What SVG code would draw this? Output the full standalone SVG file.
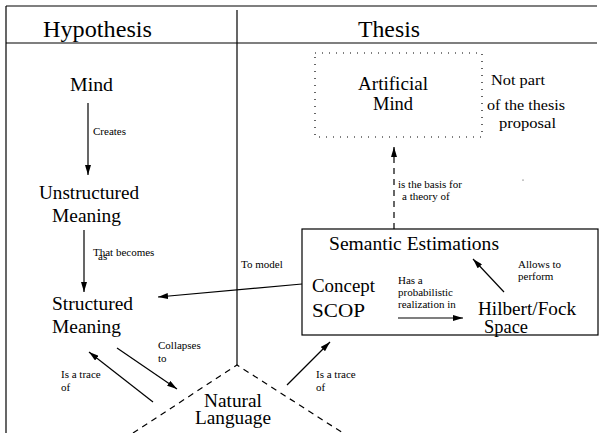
<svg xmlns="http://www.w3.org/2000/svg" width="600" height="433" viewBox="0 0 600 433">
<style>
  .hdr { font-size: 23px; }
  .node { font-size: 18px; }
  .note { font-size: 14.5px; }
  .lbl { font-size: 11px; }
  .line { stroke: #000; stroke-width: 1.2; fill: none; }
  .dash { stroke: #000; stroke-width: 1.2; fill: none; stroke-dasharray: 6 5; }
</style>
<defs>
  <marker id="arr" viewBox="0 0 10 6" refX="10" refY="3" markerWidth="10" markerHeight="6" markerUnits="userSpaceOnUse" orient="auto">
    <path d="M0,0 L10,3 L0,6 Z" fill="#000"/>
  </marker>
</defs>
<rect width="600" height="433" fill="#fff"/>
<g font-family="'Liberation Serif', 'DejaVu Serif', serif" fill="#000">
<g id="frame">
  <line class="line" x1="6" y1="6" x2="597" y2="6"/>
  <line class="line" x1="6" y1="6" x2="6" y2="433"/>
  <line class="line" x1="6" y1="43" x2="597" y2="43"/>
  <line class="line" x1="237" y1="10" x2="237" y2="365"/>
  <text class="hdr" x="43" y="37" textLength="109" lengthAdjust="spacingAndGlyphs">Hypothesis</text>
  <text class="hdr" x="358" y="37" textLength="62" lengthAdjust="spacingAndGlyphs">Thesis</text>
</g>
<g id="mind">
  <text class="node" x="70" y="91" textLength="43" lengthAdjust="spacingAndGlyphs">Mind</text>
</g>
<g id="unstructured">
  <text class="node" x="39" y="199" textLength="100" lengthAdjust="spacingAndGlyphs">Unstructured</text>
  <text class="node" x="52" y="222" textLength="69" lengthAdjust="spacingAndGlyphs">Meaning</text>
</g>
<g id="structured">
  <text class="node" x="52" y="310" textLength="81" lengthAdjust="spacingAndGlyphs">Structured</text>
  <text class="node" x="52" y="333" textLength="69" lengthAdjust="spacingAndGlyphs">Meaning</text>
</g>
<g id="natural-language">
  <path class="dash" d="M133,433 L237,365 L343,433"/>
  <text class="node" x="204" y="407" textLength="58" lengthAdjust="spacingAndGlyphs">Natural</text>
  <text class="node" x="195" y="424" textLength="76" lengthAdjust="spacingAndGlyphs">Language</text>
</g>
<g id="artificial-mind">
  <rect x="315" y="53" width="167" height="84" fill="none" stroke="#000" stroke-width="1.2" stroke-dasharray="1 6"/>
  <text class="node" x="358" y="90" textLength="70" lengthAdjust="spacingAndGlyphs">Artificial</text>
  <text class="node" x="373" y="110" textLength="40" lengthAdjust="spacingAndGlyphs">Mind</text>
</g>
<g id="not-part">
  <text class="note" x="491" y="85" textLength="54" lengthAdjust="spacingAndGlyphs">Not part</text>
  <text class="note" x="487" y="110" textLength="78" lengthAdjust="spacingAndGlyphs">of the thesis</text>
  <text class="note" x="499" y="128" textLength="57" lengthAdjust="spacingAndGlyphs">proposal</text>
  <circle cx="523" cy="180" r="0.5" fill="#000"/>
</g>
<g id="thesis-box">
  <rect x="302" y="229" width="296" height="106" fill="none" stroke="#000" stroke-width="1.2"/>
  <text class="node" x="329" y="250" textLength="170" lengthAdjust="spacingAndGlyphs">Semantic Estimations</text>
  <text class="node" x="312" y="292" textLength="63" lengthAdjust="spacingAndGlyphs">Concept</text>
  <text class="node" x="312" y="317" textLength="53" lengthAdjust="spacingAndGlyphs">SCOP</text>
  <text class="node" x="478" y="315" textLength="98" lengthAdjust="spacingAndGlyphs">Hilbert/Fock</text>
  <text class="node" x="484" y="333" textLength="44" lengthAdjust="spacingAndGlyphs">Space</text>
</g>
<g id="connectors">
  <line class="line" x1="88" y1="103" x2="88" y2="175" marker-end="url(#arr)"/>
  <text class="lbl" x="93" y="135">Creates</text>
  <line class="line" x1="84" y1="230" x2="84" y2="292" marker-end="url(#arr)"/>
  <text class="lbl" x="93" y="256">That becomes</text>
  <text class="lbl" x="98" y="260">as</text>
  <line class="line" x1="302" y1="284" x2="158" y2="297" marker-end="url(#arr)"/>
  <text class="lbl" x="241" y="268">To model</text>
  <line class="line" x1="117" y1="348" x2="177" y2="389" marker-end="url(#arr)"/>
  <text class="lbl" x="158" y="349">Collapses</text>
  <text class="lbl" x="158" y="362">to</text>
  <line class="line" x1="153" y1="402" x2="89" y2="352" marker-end="url(#arr)"/>
  <text class="lbl" x="61" y="378">Is a trace</text>
  <text class="lbl" x="61" y="391">of</text>
  <line class="line" x1="287" y1="385" x2="330" y2="342" marker-end="url(#arr)"/>
  <text class="lbl" x="316" y="378">Is a trace</text>
  <text class="lbl" x="316" y="391">of</text>
  <line class="dash" x1="394" y1="229" x2="394" y2="147" marker-end="url(#arr)"/>
  <text class="lbl" x="398" y="188">is the basis for</text>
  <text class="lbl" x="402" y="200">a theory of</text>
  <line class="line" x1="398" y1="318" x2="463" y2="318" marker-end="url(#arr)"/>
  <text class="lbl" x="398" y="284">Has a</text>
  <text class="lbl" x="398" y="296">probabilistic</text>
  <text class="lbl" x="398" y="308">realization in</text>
  <line class="line" x1="504" y1="292" x2="473" y2="259" marker-end="url(#arr)"/>
  <text class="lbl" x="518" y="268">Allows to</text>
  <text class="lbl" x="518" y="280">perform</text>
</g>
</g>
</svg>
